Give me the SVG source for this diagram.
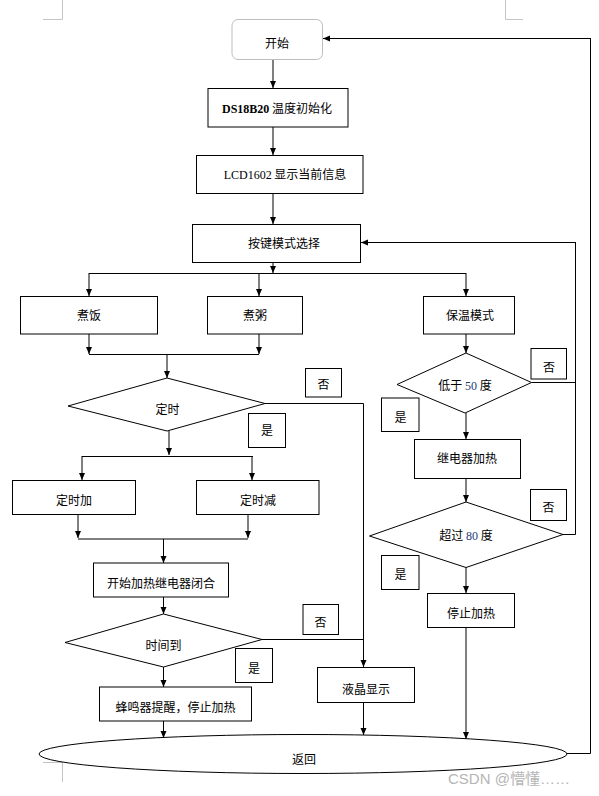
<svg xmlns="http://www.w3.org/2000/svg" width="599" height="796" viewBox="0 0 599 796">
<style>
  .box{fill:#fff;stroke:#000;stroke-width:1}
  .lbl{fill:#fff;stroke:#000;stroke-width:1}
  .t{font-family:"Noto Sans CJK SC","Liberation Sans",sans-serif;font-size:12px;fill:#000;text-anchor:middle}
  .ser{font-family:"Liberation Serif",serif}
  .num{fill:#1f3a7a}
  .ln{fill:none;stroke:#000;stroke-width:1}
  .arr{fill:none;stroke:#000;stroke-width:1;marker-end:url(#ah)}
  .mark{fill:none;stroke:#c4c4c4;stroke-width:1}
</style>
<defs>
  <marker id="ah" markerUnits="userSpaceOnUse" markerWidth="7" markerHeight="7" viewBox="0 0 7 7" refX="7" refY="3.5" orient="auto">
    <path d="M0,0.5 L7,3.5 L0,6.5 Z" fill="#000"/>
  </marker>
</defs>
<rect width="599" height="796" fill="#fff"/>
<g id="corner-marks">
  <path class="mark" d="M43,19.5 H62.5 V0"/>
  <path class="mark" d="M505.5,0 V19.5 H523"/>
  <path class="mark" d="M43,762.5 H62.5 V782"/>
</g>
<g id="connectors">
  <line class="arr" x1="273" y1="60" x2="273" y2="88"/>
  <line class="arr" x1="273" y1="127" x2="273" y2="155"/>
  <line class="arr" x1="273" y1="193" x2="273" y2="224"/>
  <line class="arr" x1="273" y1="262" x2="273" y2="273"/>
  <line class="ln" x1="89" y1="273.5" x2="466" y2="273.5"/>
  <line class="arr" x1="89" y1="273" x2="89" y2="296"/>
  <line class="arr" x1="259" y1="273" x2="259" y2="296"/>
  <line class="arr" x1="466" y1="273" x2="466" y2="296"/>
  <line class="arr" x1="89" y1="334" x2="89" y2="354"/>
  <line class="arr" x1="259" y1="334" x2="259" y2="354"/>
  <line class="ln" x1="89" y1="354.5" x2="259" y2="354.5"/>
  <line class="arr" x1="167" y1="354" x2="167" y2="378"/>
  <polyline class="ln" points="265,403.5 363.5,403.5 363.5,640"/>
  <line class="arr" x1="363.5" y1="639" x2="363.5" y2="667"/>
  <line class="arr" x1="169" y1="431" x2="169" y2="455"/>
  <line class="ln" x1="82" y1="456.5" x2="253" y2="456.5"/>
  <line class="arr" x1="82" y1="456" x2="82" y2="480"/>
  <line class="arr" x1="252" y1="456" x2="252" y2="480"/>
  <line class="arr" x1="78" y1="514" x2="78" y2="538"/>
  <line class="arr" x1="248" y1="514" x2="248" y2="538"/>
  <line class="ln" x1="78" y1="539" x2="248" y2="539"/>
  <line class="arr" x1="163.5" y1="539" x2="163.5" y2="563"/>
  <line class="arr" x1="163.5" y1="597" x2="163.5" y2="614"/>
  <line class="ln" x1="262" y1="639.5" x2="363.5" y2="639.5"/>
  <line class="arr" x1="163.5" y1="667" x2="163.5" y2="687"/>
  <line class="arr" x1="163.5" y1="721" x2="163.5" y2="738"/>
  <line class="arr" x1="363.5" y1="702" x2="363.5" y2="735"/>
  <line class="arr" x1="466" y1="334" x2="466" y2="353"/>
  <line class="arr" x1="466" y1="413" x2="466" y2="439"/>
  <line class="arr" x1="466" y1="478" x2="466" y2="502"/>
  <line class="arr" x1="466" y1="567" x2="466" y2="593"/>
  <line class="arr" x1="466" y1="627" x2="466" y2="739"/>
  <polyline class="ln" points="531.5,382.5 575.5,382.5"/>
  <polyline class="ln" points="563,534.5 575.5,534.5 575.5,242.5"/>
  <line class="arr" x1="576" y1="242.5" x2="361" y2="242.5"/>
  <polyline class="ln" points="567,753.5 590.5,753.5 590.5,38.5"/>
  <line class="arr" x1="591" y1="38.5" x2="323" y2="38.5"/>
</g>
<g id="start">
  <rect x="232" y="19.5" width="90.5" height="40" rx="6" fill="#fff" stroke="#bdbdbd" stroke-width="1"/>
  <text class="t" x="277" y="47.5">开始</text>
</g>
<g id="ds18b20">
  <rect class="box" x="208" y="88.5" width="140" height="38.5"/>
  <text class="t" x="277" y="112.5"><tspan class="ser" font-weight="bold">DS18B20</tspan> 温度初始化</text>
</g>
<g id="lcd1602">
  <rect class="box" x="196.5" y="155.5" width="166.5" height="38"/>
  <text class="t" x="285" y="178.5"><tspan class="ser">LCD1602</tspan> 显示当前信息</text>
</g>
<g id="key-mode">
  <rect class="box" x="192.5" y="224.5" width="168" height="38"/>
  <text class="t" x="284" y="248">按键模式选择</text>
</g>
<g id="cook-rice">
  <rect class="box" x="20.5" y="296.5" width="137" height="37.5"/>
  <text class="t" x="89" y="319.5">煮饭</text>
</g>
<g id="cook-porridge">
  <rect class="box" x="207.5" y="296.5" width="95" height="37.5"/>
  <text class="t" x="255" y="319.5">煮粥</text>
</g>
<g id="keep-warm">
  <rect class="box" x="423.5" y="296.5" width="91" height="37.5"/>
  <text class="t" x="470" y="319.5">保温模式</text>
</g>
<g id="timer">
  <polygon class="box" points="167,378 265,403.5 167,431 68,406"/>
  <text class="t" x="167.5" y="413.5">定时</text>
</g>
<g id="timer-no-label">
  <rect class="lbl" x="305.5" y="368.5" width="36" height="28.5"/>
  <text class="t" x="323.5" y="389">否</text>
</g>
<g id="timer-yes-label">
  <rect class="lbl" x="248.5" y="413.5" width="37" height="34"/>
  <text class="t" x="267" y="435">是</text>
</g>
<g id="timer-plus">
  <rect class="box" x="12.5" y="480.5" width="123" height="34"/>
  <text class="t" x="74" y="505">定时加</text>
</g>
<g id="timer-minus">
  <rect class="box" x="196.5" y="480.5" width="122.5" height="34"/>
  <text class="t" x="258" y="505">定时减</text>
</g>
<g id="start-heating">
  <rect class="box" x="93.5" y="563" width="135" height="34"/>
  <text class="t" x="161" y="588">开始加热继电器闭合</text>
</g>
<g id="time-up">
  <polygon class="box" points="163.5,614 262,639.5 163.5,667 65,642.5"/>
  <text class="t" x="163.5" y="649.5">时间到</text>
</g>
<g id="time-up-no-label">
  <rect class="lbl" x="303" y="604.5" width="35.5" height="30"/>
  <text class="t" x="320.5" y="626.5">否</text>
</g>
<g id="time-up-yes-label">
  <rect class="lbl" x="235.5" y="648.5" width="37" height="34"/>
  <text class="t" x="254" y="672.5">是</text>
</g>
<g id="buzzer">
  <rect class="box" x="99.5" y="687" width="152" height="34"/>
  <text class="t" x="175.5" y="711.5">蜂鸣器提醒，停止加热</text>
</g>
<g id="lcd-display">
  <rect class="box" x="317.5" y="667.5" width="97" height="35"/>
  <text class="t" x="366" y="693.5">液晶显示</text>
</g>
<g id="below-50">
  <polygon class="box" points="466,353 531.5,382.5 465,413 397,384.5"/>
  <text class="t" x="465" y="390">低于 <tspan class="ser num">50</tspan> 度</text>
</g>
<g id="below-50-no-label">
  <rect class="lbl" x="531" y="348.5" width="35.5" height="30.5"/>
  <text class="t" x="549" y="372">否</text>
</g>
<g id="below-50-yes-label">
  <rect class="lbl" x="381.5" y="398" width="37.5" height="33.5"/>
  <text class="t" x="400.5" y="422">是</text>
</g>
<g id="relay-heat">
  <rect class="box" x="414.5" y="439.5" width="106" height="39"/>
  <text class="t" x="467" y="463">继电器加热</text>
</g>
<g id="above-80">
  <polygon class="box" points="466,502 563,534.5 466,567.5 369.5,536"/>
  <text class="t" x="466" y="539.5">超过 <tspan class="ser num">80</tspan> 度</text>
</g>
<g id="above-80-no-label">
  <rect class="lbl" x="530.5" y="489.5" width="36" height="31"/>
  <text class="t" x="548.5" y="512">否</text>
</g>
<g id="above-80-yes-label">
  <rect class="lbl" x="381.5" y="555.5" width="37.5" height="34"/>
  <text class="t" x="400.5" y="579">是</text>
</g>
<g id="stop-heating">
  <rect class="box" x="427.5" y="593.5" width="87" height="34"/>
  <text class="t" x="471" y="617.5">停止加热</text>
</g>
<g id="return">
  <ellipse class="box" cx="303" cy="754" rx="264" ry="19.5"/>
  <text class="t" x="304" y="764">返回</text>
</g>
<text x="448" y="784" font-family="'Liberation Sans','Noto Sans CJK SC',sans-serif" font-size="15" fill="#b5b5b5">CSDN @懵懂……</text>
</svg>
